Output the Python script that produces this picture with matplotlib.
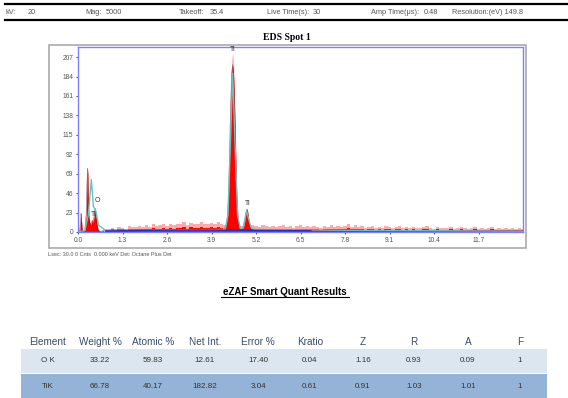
import numpy as np
import matplotlib.pyplot as plt
from matplotlib.patches import Rectangle
from matplotlib.lines import Line2D

plt.rcParams['font.family'] = ['Liberation Sans', 'DejaVu Sans']

W, H = 568, 398

# header info
hdr_names = ['kV:', 'Mag:', 'Takeoff:', 'Live Time(s):', 'Amp Time(\u03bcs):', 'Resolution:(eV)']
hdr_values = ['20', '5000', '35.4', '30', '0.48', '149.8']

# spectrum: low energy region (keV, counts)
low_e = [0.00, 0.05, 0.08, 0.09, 0.10, 0.12, 0.15, 0.20, 0.24, 0.26, 0.28, 0.29, 0.30,
         0.32, 0.34, 0.36, 0.38, 0.40, 0.42, 0.44, 0.46, 0.48, 0.50, 0.52, 0.54, 0.56,
         0.58, 0.60, 0.64, 0.70, 0.75]
low_c = [0, 2, 14, 22, 16, 4, 1, 2, 20, 55, 75, 68, 40, 18, 12, 10, 9, 12, 14, 11, 16,
         20, 28, 22, 14, 8, 4, 2, 1, 1, 2]

# Ti Ka and Ti Kb peaks (solid counts and noisy upper envelope)
ka_e = [4.28, 4.33, 4.37, 4.40, 4.43, 4.46, 4.49, 4.52, 4.55, 4.58, 4.61, 4.64, 4.67,
        4.71, 4.75]
ka_c = [4, 8, 20, 45, 95, 150, 188, 198, 182, 140, 85, 40, 15, 6, 4]
ka_hi = [6, 11, 25, 52, 105, 162, 203, 213, 196, 150, 92, 46, 19, 9, 6]
kb_e = [4.80, 4.84, 4.87, 4.90, 4.93, 4.95, 4.98, 5.01, 5.05, 5.10]
kb_c = [3, 6, 12, 22, 27, 26, 18, 8, 4, 3]

# background channels from 0.8 keV, 0.1 keV apart
bg_start, bg_step = 0.8, 0.1
bg_c = [2, 1, 3, 2, 3, 3, 2, 4, 3, 3,
        4, 3, 4, 3, 5, 4, 4, 5, 4, 5,
        4, 5, 5, 6, 4, 6, 5, 5, 6, 5,
        5, 6, 5, 6, 5, 4, 4, 4, 4, 4,
        4, 4, 3, 4, 4, 3, 4, 4, 3, 4,
        3, 4, 4, 3, 4, 2, 4, 4, 3, 4,
        3, 4, 3, 2, 4, 3, 4, 3, 4, 3,
        4, 5, 3, 4, 3, 4, 2, 3, 4, 2,
        3, 2, 4, 3, 2, 3, 4, 2, 3, 2,
        3, 2, 2, 3, 4, 2, 2, 3, 2, 2,
        2, 3, 2, 2, 3, 2, 2, 2, 3, 2,
        2, 2, 2, 3, 2, 2, 2, 2, 2, 2,
        2, 2, 2]
bg_hi = [4, 3, 5, 4, 6, 5, 4, 7, 6, 6,
         7, 6, 8, 6, 9, 7, 8, 10, 7, 9,
         8, 10, 9, 12, 8, 11, 9, 10, 12, 9,
         10, 11, 9, 12, 10, 8, 7, 7, 7, 7,
         7, 7, 6, 8, 7, 6, 8, 7, 6, 7,
         6, 7, 8, 6, 7, 5, 7, 8, 6, 7,
         6, 7, 6, 5, 7, 6, 8, 6, 7, 6,
         7, 9, 6, 8, 6, 7, 5, 6, 7, 5,
         6, 5, 7, 6, 5, 6, 7, 5, 6, 5,
         6, 5, 5, 6, 7, 5, 4, 6, 5, 5,
         5, 6, 4, 5, 6, 5, 4, 5, 6, 4,
         5, 4, 5, 6, 4, 5, 4, 5, 4, 5,
         4, 5, 4]

# fitted curve (teal) and background fit (blue)
fit_e = [0.0, 0.2, 0.30, 0.39, 0.45, 0.52, 0.60, 0.80, 4.30, 4.38, 4.44, 4.52, 4.60,
         4.66, 4.74, 4.82, 4.88, 4.93, 4.98, 5.06, 5.15, 8.0, 13.0]
fit_c = [0, 2, 20, 62, 30, 25, 8, 2, 3, 20, 90, 188, 90, 20, 4, 5, 16, 25, 16, 5, 3, 2, 1]
bgfit_e = [0.8, 2.0, 3.5, 5.0, 6.8]
bgfit_c = [1.2, 2.0, 2.4, 2.0, 1.6]

peak_labels = ['Ti', 'Ti', 'O', 'Ti']
peak_x = [4.52, 4.96, 0.56, 0.46]
peak_y = [212, 30, 33, 17]

xticks = [0.0, 1.3, 2.6, 3.9, 5.2, 6.5, 7.8, 9.1, 10.4, 11.7]
yticks = [0, 23, 46, 69, 92, 115, 138, 161, 184, 207]

# quant table
cols = ['Element', 'Weight %', 'Atomic %', 'Net Int.', 'Error %', 'Kratio', 'Z', 'R', 'A', 'F']
row_o = ['O K', '33.22', '59.83', '12.61', '17.40', '0.04', '1.16', '0.93', '0.09', '1']
row_ti = ['TiK', '66.78', '40.17', '182.82', '3.04', '0.61', '0.91', '1.03', '1.01', '1']


def fx(x):
    return x / W


def fy(y):
    return 1 - y / H


fig = plt.figure(figsize=(W / 100, H / 100), dpi=100)

# header band
for y in [4, 20]:
    fig.add_artist(Line2D([fx(5), 1], [fy(y), fy(y)], color='black', lw=1.6))
name_x = [6, 85, 179, 267, 371, 452]
val_x = [28, 106, 210, 313, 424, None]
for n, v, nx, vx in zip(hdr_names, hdr_values, name_x, val_x):
    if vx is None:
        fig.text(fx(nx), fy(12), n + ' ' + v, fontsize=5.3, color='#555555', va='center')
        continue
    fig.text(fx(nx), fy(12), n, fontsize=5.3, color='#555555', va='center')
    fig.text(fx(vx), fy(12), v, fontsize=5.3, color='#555555', va='center')

fig.text(fx(287), fy(37), 'EDS Spot 1', fontsize=7, fontweight='bold',
         family='Liberation Serif', ha='center', va='center')

# grey frame around the plot
fig.add_artist(Rectangle((fx(49), fy(248)), fx(477), (248 - 45) / H, facecolor='none',
                         edgecolor='#aaaaaa', lw=1.2))

ax = fig.add_axes([fx(78), fy(232), fx(523 - 78), (232 - 47) / H])
bg_e = bg_start + bg_step * np.arange(len(bg_c))
ax.fill_between(bg_e, bg_hi, step='mid', color='#ffaaaa', lw=0)
ax.fill_between(bg_e, bg_c, step='mid', color='red', lw=0)
ax.fill_between(ka_e, ka_hi, color='#ffb0b0', lw=0)
for e, c in [(low_e, low_c), (ka_e, ka_c), (kb_e, kb_c)]:
    ax.fill_between(e, c, color='red', lw=0)
    ax.plot(e, c, color='#661111', lw=0.5, alpha=0.6)
ax.plot(fit_e, fit_c, color='#66c2c2', lw=1.0)
ax.plot(bgfit_e, bgfit_c, color='#2233aa', lw=1.0)
for t, x, y in zip(peak_labels, peak_x, peak_y):
    ax.text(x, y, t, fontsize=5, color='#333333', ha='center', va='bottom')

ax.set_xlim(0, 13)
ax.set_ylim(0, 219)
ax.set_xticks(xticks)
ax.set_yticks(yticks)
ax.set_xticklabels(['%.1f' % t for t in xticks])
ax.tick_params(labelsize=4.8, colors='#555555', length=1.5, pad=2)
for s in ax.spines.values():
    s.set_color('#8080ff')
    s.set_linewidth(1.0)

fig.text(fx(48), fy(255), 'Lsec: 30.0 0 Cnts  0.000 keV Det: Octane Plus Det',
         fontsize=4, color='#555555', va='center')

# table title
fig.text(fx(285), fy(292), 'eZAF Smart Quant Results', fontsize=7, fontweight='bold',
         ha='center', va='center')
fig.add_artist(Line2D([fx(221), fx(349)], [fy(297), fy(297)], color='black', lw=0.8))

fig.add_artist(Rectangle((fx(21), fy(373)), fx(547 - 21), 24 / H, facecolor='#dce6f1',
                         edgecolor='none'))
fig.add_artist(Rectangle((fx(21), fy(400)), fx(547 - 21), 26 / H, facecolor='#95b3d7',
                         edgecolor='none'))
col_x = [48, 100, 153, 205, 258, 310, 363, 414, 468, 520]
for i, cx in enumerate(col_x):
    fig.text(fx(cx), fy(342), cols[i], fontsize=7.2, color='#3a4a6b', ha='center', va='center')
    fig.text(fx(cx), fy(361), row_o[i], fontsize=5.8, color='#333333', ha='center', va='center')
    fig.text(fx(cx), fy(386), row_ti[i], fontsize=5.8, color='#333333', ha='center', va='center')

fig.savefig('out.png', dpi=100)
